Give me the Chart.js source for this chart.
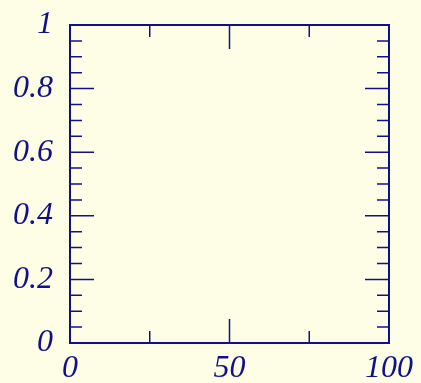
<!DOCTYPE html>
<html>
<head>
<meta charset="utf-8">
<script src="https://cdn.jsdelivr.net/npm/chart.js@4.4.0/dist/chart.umd.min.js"></script>
<style>
  html, body { margin: 0; padding: 0; background: #fefee6; }
  #wrap { width: 421px; height: 383px; }
</style>
</head>
<body>
<div id="wrap"><canvas id="chart" width="421" height="383"></canvas></div>
<script>
"use strict";

// axis ranges and ticks (the plot holds no data)
const xRange = [0, 100];
const yRange = [0, 1];
const xMajorTicks = [0, 50, 100];
const xMinorTicks = [25, 75];
const yMajorTicks = [0, 0.2, 0.4, 0.6, 0.8, 1];
const yMinorTicks = [0.05, 0.1, 0.15, 0.25, 0.3, 0.35, 0.45, 0.5, 0.55,
                     0.65, 0.7, 0.75, 0.85, 0.9, 0.95];
const xTickLabels = ["0", "50", "100"];
const yTickLabels = ["0", "0.2", "0.4", "0.6", "0.8", "1"];

const INK = "#10108a";
const BG = "#fefee6";
const FONT = { family: "'Liberation Serif', 'DejaVu Serif', serif",
               size: 32, style: "italic", lineHeight: 1 };

// draw the frame and the inward ticks on all four sides
const framePlugin = {
  id: "frame",
  beforeDraw(chart) {
    const ctx = chart.ctx;
    ctx.save();
    ctx.fillStyle = BG;
    ctx.fillRect(0, 0, chart.width, chart.height);
    ctx.restore();
  },
  afterDraw(chart) {
    const ctx = chart.ctx;
    const a = chart.chartArea;
    const xs = chart.scales.x, ys = chart.scales.y;
    ctx.save();
    ctx.strokeStyle = INK;
    ctx.lineWidth = 1.5;
    function tickX(v, len) {
      const px = xs.getPixelForValue(v);
      ctx.beginPath();
      ctx.moveTo(px, a.bottom); ctx.lineTo(px, a.bottom - len);
      ctx.moveTo(px, a.top); ctx.lineTo(px, a.top + len);
      ctx.stroke();
    }
    function tickY(v, len) {
      const py = ys.getPixelForValue(v);
      ctx.beginPath();
      ctx.moveTo(a.left, py); ctx.lineTo(a.left + len, py);
      ctx.moveTo(a.right, py); ctx.lineTo(a.right - len, py);
      ctx.stroke();
    }
    for (const v of xMajorTicks) tickX(v, 24);
    for (const v of xMinorTicks) tickX(v, 12);
    for (const v of yMajorTicks) tickY(v, 24);
    for (const v of yMinorTicks) tickY(v, 12);
    ctx.lineWidth = 2;
    ctx.strokeRect(a.left, a.top, a.right - a.left, a.bottom - a.top);
    ctx.restore();
  }
};

const config = {
  type: "scatter",
  data: { datasets: [{ data: [], showLine: false }] },
  options: {
    responsive: false,
    animation: false,
    layout: { padding: { top: 25, right: 32, left: 0, bottom: 0 } },
    plugins: { legend: { display: false }, tooltip: { enabled: false } },
    scales: {
      x: {
        type: "linear", min: xRange[0], max: xRange[1],
        grid: { display: false, drawTicks: false },
        border: { display: false },
        afterBuildTicks(scale) {
          scale.ticks = xMajorTicks.map(v => ({ value: v }));
        },
        afterFit(scale) {
          scale.height = 40;
          scale.paddingLeft = 0; scale.paddingRight = 0;
        },
        ticks: {
          color: INK, font: FONT, padding: 10, maxRotation: 0,
          callback: (v) => xTickLabels[xMajorTicks.indexOf(v)]
        }
      },
      y: {
        type: "linear", min: yRange[0], max: yRange[1],
        grid: { display: false, drawTicks: false },
        border: { display: false },
        afterBuildTicks(scale) {
          scale.ticks = yMajorTicks.map(v => ({ value: v }));
        },
        afterFit(scale) {
          scale.width = 70;
          scale.paddingTop = 0; scale.paddingBottom = 0;
        },
        ticks: {
          color: INK, font: FONT, padding: 17,
          callback: (v) => yTickLabels[yMajorTicks.indexOf(v)]
        }
      }
    }
  },
  plugins: [framePlugin]
};

new Chart(document.getElementById("chart").getContext("2d"), config);
</script>
</body>
</html>
